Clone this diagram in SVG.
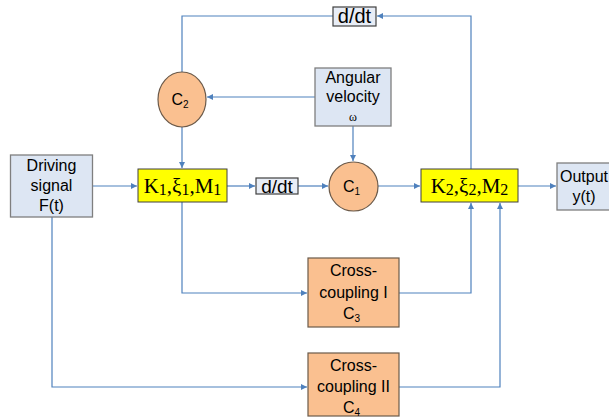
<svg xmlns="http://www.w3.org/2000/svg" width="609" height="418" viewBox="0 0 609 418">
<style>
.blue{fill:#dde6f3;stroke:#7f7f7f;stroke-width:1.3}
.yel{fill:#ffff00;stroke:#404040;stroke-width:1}
.org{fill:#fac090;stroke:#6b5a4a;stroke-width:1.2}
.dd{fill:#e8edf6;stroke:#404040;stroke-width:1.2}
.t{font-family:"Liberation Sans",Arial,sans-serif;font-size:16px;fill:#000;text-anchor:middle}
.s{font-family:"Liberation Serif","Times New Roman",serif;font-size:21px;fill:#000;text-anchor:middle}
.ln{fill:none;stroke:#4f81bd;stroke-width:1.2}
</style>
<defs>
<marker id="a" markerWidth="7" markerHeight="7" refX="6" refY="3.5" orient="auto" markerUnits="userSpaceOnUse">
<path d="M0,0.5 L6,3.5 L0,6.5 Z" fill="#4f81bd"/>
</marker>
</defs>
<g id="connectors">
<path class="ln" d="M333,16 H182 V83" marker-end="url(#a)"/>
<path class="ln" d="M471,169 V16 H377" marker-end="url(#a)"/>
<path class="ln" d="M315,97 H207" marker-end="url(#a)"/>
<path class="ln" d="M353,126 V161" marker-end="url(#a)"/>
<path class="ln" d="M182,127 V168" marker-end="url(#a)"/>
<path class="ln" d="M92,186 H137" marker-end="url(#a)"/>
<path class="ln" d="M227,186 H255" marker-end="url(#a)"/>
<path class="ln" d="M298,186 H328" marker-end="url(#a)"/>
<path class="ln" d="M378,186 H420" marker-end="url(#a)"/>
<path class="ln" d="M518,186 H556" marker-end="url(#a)"/>
<path class="ln" d="M182,202 V293 H307" marker-end="url(#a)"/>
<path class="ln" d="M399,293 H471 V203" marker-end="url(#a)"/>
<path class="ln" d="M52,217 V387 H307" marker-end="url(#a)"/>
<path class="ln" d="M399,387 H500 V203" marker-end="url(#a)"/>
</g>
<g id="ddt_top">
<rect class="dd" x="333" y="7" width="43" height="19"/>
<text class="t" x="354.5" y="23" style="font-size:20px">d/dt</text>
</g>
<g id="c2">
<ellipse class="org" cx="182" cy="99.5" rx="24" ry="27.5"/>
<text class="t" x="180" y="105">C<tspan font-size="10" dy="3">2</tspan></text>
</g>
<g id="angular">
<rect class="blue" x="315" y="68" width="76" height="58"/>
<text class="t" x="353" y="83">Angular</text>
<text class="t" x="353" y="102">velocity</text>
<text class="s" x="353" y="121" style="font-size:12px">ω</text>
</g>
<g id="driving">
<rect class="blue" x="10.5" y="155" width="82" height="62"/>
<text class="t" x="51.5" y="171">Driving</text>
<text class="t" x="51.5" y="191">signal</text>
<text class="t" x="51.5" y="211">F(t)</text>
</g>
<g id="k1">
<rect class="yel" x="138" y="169" width="89" height="33"/>
<text class="s" x="182.5" y="193">K<tspan font-size="16" dy="2">1</tspan><tspan dy="-2">,ξ</tspan><tspan font-size="16" dy="2">1</tspan><tspan dy="-2">,M</tspan><tspan font-size="16" dy="2">1</tspan></text>
</g>
<g id="ddt_mid">
<rect class="dd" x="256" y="178" width="42" height="16"/>
<text class="t" x="277" y="192.5" style="font-size:19px">d/dt</text>
</g>
<g id="c1">
<ellipse class="org" cx="353.5" cy="186.5" rx="24.5" ry="24.5"/>
<text class="t" x="351.5" y="192">C<tspan font-size="10" dy="3">1</tspan></text>
</g>
<g id="k2">
<rect class="yel" x="421" y="169" width="97" height="33"/>
<text class="s" x="469.5" y="193">K<tspan font-size="16" dy="2">2</tspan><tspan dy="-2">,ξ</tspan><tspan font-size="16" dy="2">2</tspan><tspan dy="-2">,M</tspan><tspan font-size="16" dy="2">2</tspan></text>
</g>
<g id="output">
<rect class="blue" x="557" y="163" width="60" height="47"/>
<text class="t" x="584" y="182">Output</text>
<text class="t" x="584" y="202">y(t)</text>
</g>
<g id="c3">
<rect class="org" x="308" y="258" width="91" height="69"/>
<text class="t" x="353.5" y="276">Cross-</text>
<text class="t" x="353.5" y="298">coupling I</text>
<text class="t" x="351.5" y="319">C<tspan font-size="10" dy="3">3</tspan></text>
</g>
<g id="c4">
<rect class="org" x="308" y="353" width="91" height="63"/>
<text class="t" x="353.5" y="371">Cross-</text>
<text class="t" x="353.5" y="392">coupling II</text>
<text class="t" x="351.5" y="413">C<tspan font-size="10" dy="3">4</tspan></text>
</g>
</svg>
